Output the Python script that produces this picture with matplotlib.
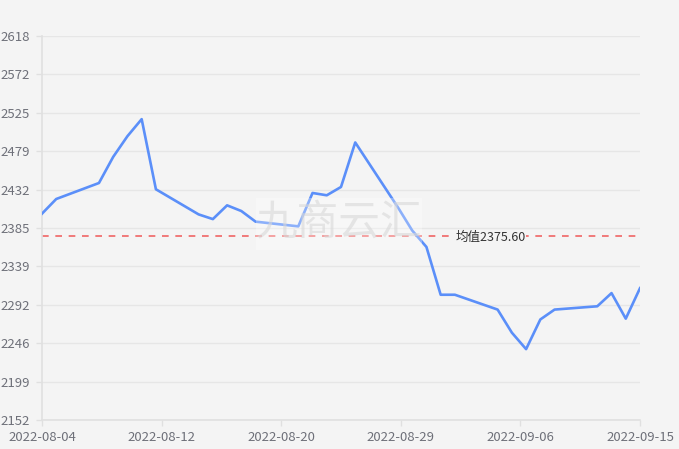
import numpy as np
import pandas as pd
import matplotlib
matplotlib.use('Agg')
import matplotlib.pyplot as plt
import matplotlib.dates as mdates

plt.rcParams['font.family'] = ['Noto Sans CJK SC', 'DejaVu Sans']

dates = ['2022-08-04', '2022-08-05', '2022-08-08', '2022-08-09', '2022-08-10',
         '2022-08-11', '2022-08-12', '2022-08-15', '2022-08-16', '2022-08-17',
         '2022-08-18', '2022-08-19', '2022-08-22', '2022-08-23', '2022-08-24',
         '2022-08-25', '2022-08-26', '2022-08-29', '2022-08-30', '2022-08-31',
         '2022-09-01', '2022-09-02', '2022-09-05', '2022-09-06', '2022-09-07',
         '2022-09-08', '2022-09-09', '2022-09-12', '2022-09-13', '2022-09-14',
         '2022-09-15']
prices = [2402.4, 2420.2, 2439.6, 2471.3, 2496.4,
          2517.1, 2432.0, 2401.5, 2395.8, 2412.5,
          2405.6, 2392.7, 2387.0, 2427.5, 2424.7,
          2434.8, 2488.8, 2410.0, 2382.0, 2362.0,
          2304.0, 2304.0, 2286.0, 2258.0, 2238.0,
          2274.0, 2286.0, 2290.0, 2306.0, 2275.0,
          2312.0]
mean_value = 2375.60
y_ticks = [2152, 2199, 2246, 2292, 2339, 2385, 2432, 2479, 2525, 2572, 2618]
x_labels = ['2022-08-04', '2022-08-12', '2022-08-20', '2022-08-29', '2022-09-06', '2022-09-15']

x = pd.to_datetime(dates)
bg = '#f4f4f4'

fig = plt.figure(figsize=(6.79, 4.49), dpi=100, facecolor=bg)
ax = fig.add_axes([42 / 679, 1 - 420 / 449, 598 / 679, 384 / 449], facecolor=bg)

ax.plot(x, prices, color='#5b8ff9', lw=1.9, zorder=3)
ax.axhline(mean_value, color='#f06464', lw=1.2, ls=(0, (4, 4)), zorder=2)

x0, x1 = mdates.date2num(x[0]), mdates.date2num(x[-1])
ax.set_xlim(x0, x1)
ax.set_ylim(2152, 2618)

ax.set_yticks(np.linspace(2152, 2618, 11))
ax.set_yticklabels([str(v) for v in y_ticks])
ax.set_xticks(np.linspace(x0, x1, 6))
ax.set_xticklabels(x_labels)

ax.grid(axis='y', color='#e6e6e6', lw=1)
for s in ['top', 'right']:
    ax.spines[s].set_visible(False)
for s in ['left', 'bottom']:
    ax.spines[s].set_color('#e0e0e0')
    ax.spines[s].set_linewidth(1.2)
ax.tick_params(axis='both', colors='#e0e0e0', labelcolor='#6e7079',
               labelsize=9.5, length=4, width=1)
ax.tick_params(axis='y', pad=5)
ax.tick_params(axis='x', pad=4)

# mean label
ax.text(mdates.date2num(pd.Timestamp('2022-09-02')) + 0.02, mean_value - 2.5, '均值2375.60',
        fontsize=9, color='#333333', va='center', ha='left', zorder=4,
        bbox=dict(facecolor=bg, edgecolor='none', pad=0.5))

# watermark
fig.patches.append(plt.Rectangle((256 / 679, 1 - 250 / 449), 166 / 679, 52 / 449,
                                 transform=fig.transFigure, facecolor='white',
                                 alpha=0.3, edgecolor='none', zorder=5))
fig.text(339 / 679, 1 - 224 / 449, '九商云汇', fontsize=30, color='#d8d8d8',
         alpha=0.6, ha='center', va='center', zorder=6)

fig.savefig('out.png', dpi=100, facecolor=bg)
